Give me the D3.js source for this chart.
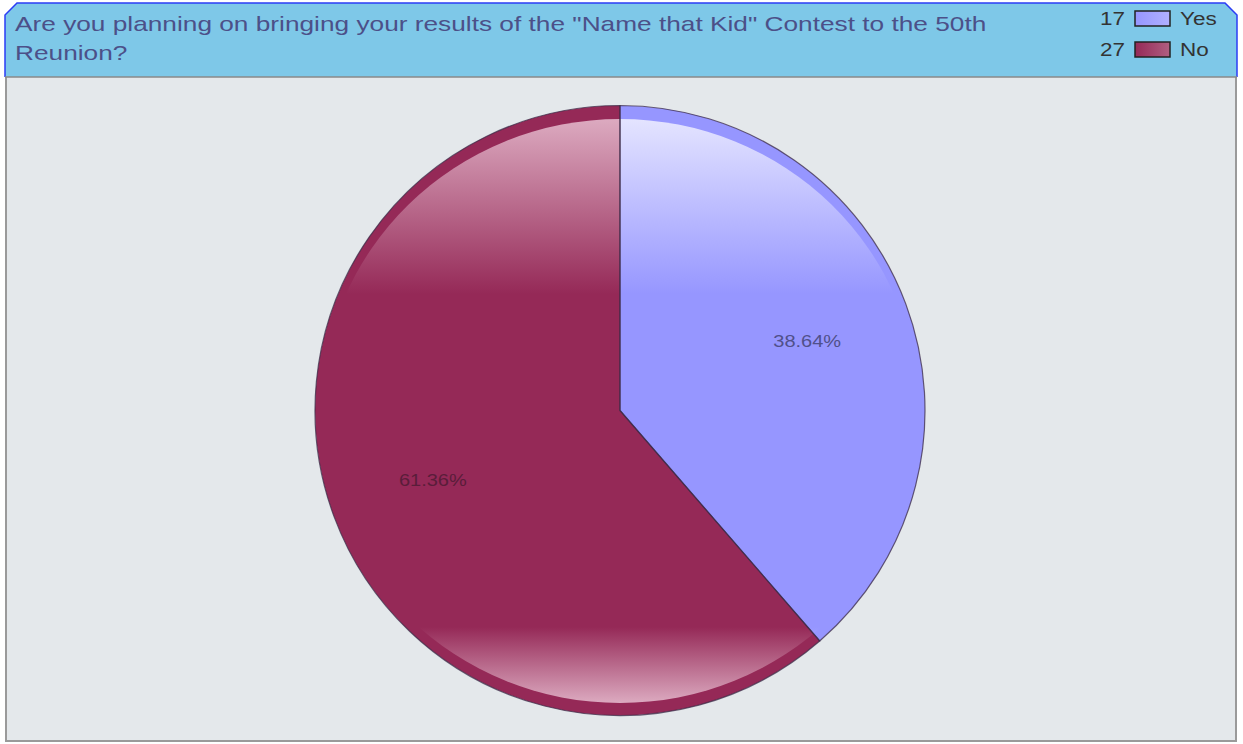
<!DOCTYPE html>
<html><head><meta charset="utf-8">
<script src="https://cdn.jsdelivr.net/npm/d3@7"></script>
<style>html,body{margin:0;padding:0;background:#fff;}svg{display:block;}</style>
</head><body>
<svg id="c" width="1243" height="744"></svg>
<script>
const titleLines = ['Are you planning on bringing your results of the "Name that Kid" Contest to the 50th', 'Reunion?'];
const categories = ["Yes", "No"];
const counts = [17, 27];
const colors = ["#9696ff", "#952957"];
const lightColors = ["#e4e4ff", "#dcaac0"];
const labelColors = ["#50508a", "#5a1d3a"];

const svg = d3.select("#c");
const font = "'Liberation Sans', Arial, sans-serif";
const SX = 1.25; // horizontal stretch of text as in reference

function txt(x, y, s, size, fill, anchor) {
  return svg.append("text")
    .attr("transform", `translate(${x},${y}) scale(${SX},1)`)
    .attr("text-anchor", anchor || "start")
    .attr("font-family", font).attr("font-size", size).attr("fill", fill).text(s);
}

// body panel
svg.append("rect").attr("x", 6).attr("y", 76).attr("width", 1230).attr("height", 665)
  .attr("fill", "#e4e8eb").attr("stroke", "#9a9a9a").attr("stroke-width", 2);

// header with chamfered top corners
const hx0 = 5, hx1 = 1237, hy0 = 3, hy1 = 77, ch = 12;
svg.append("path")
  .attr("d", `M${hx0},${hy1} L${hx0},${hy0+ch} L${hx0+ch},${hy0} L${hx1-ch},${hy0} L${hx1},${hy0+ch} L${hx1},${hy1} Z`)
  .attr("fill", "#7ec8e8");
svg.append("path")
  .attr("d", `M${hx0},${hy1} L${hx0},${hy0+ch} L${hx0+ch},${hy0} L${hx1-ch},${hy0} L${hx1},${hy0+ch} L${hx1},${hy1}`)
  .attr("fill", "none").attr("stroke", "#2b3cf5").attr("stroke-width", 1.5);
svg.append("line").attr("x1", hx0).attr("x2", hx1).attr("y1", hy1).attr("y2", hy1)
  .attr("stroke", "#8a8a8a").attr("stroke-width", 1.5);

// title
titleLines.forEach((t, i) => txt(15, 31 + i * 29, t, 21, "#4c5088"));

// legend
const defs = svg.append("defs");
categories.forEach((c, i) => {
  const g = defs.append("linearGradient").attr("id", "lg" + i).attr("x1", 0).attr("x2", 1).attr("y1", 0).attr("y2", 0);
  g.append("stop").attr("offset", 0).attr("stop-color", colors[i]);
  g.append("stop").attr("offset", 1).attr("stop-color", d3.interpolateRgb(colors[i], "#fff")(0.25));
  const y = 18 + i * 31;
  txt(1125, y + 7, counts[i], 18, "#333", "end");
  svg.append("rect").attr("x", 1135).attr("y", y - 7).attr("width", 35).attr("height", 15)
    .attr("fill", `url(#lg${i})`).attr("stroke", "#222").attr("stroke-width", 1.5);
  txt(1180, y + 7, c, 18, "#333");
});

// pie
const cx = 620, cy = 410.5, R = 305;
const total = d3.sum(counts);
const pie = d3.pie().sort(null).value(d => d)(counts);
const arc = d3.arc().innerRadius(0).outerRadius(R);
const labelArc = d3.arc().innerRadius(R * 0.655).outerRadius(R * 0.655);
const pg = svg.append("g").attr("transform", `translate(${cx},${cy})`);

// gloss area: slightly smaller ellipse inside the disk
const gRx = 299, gRy = 292, gCy = 0.5;
defs.append("clipPath").attr("id", "glossClip")
  .append("ellipse").attr("cx", 0).attr("cy", gCy).attr("rx", gRx).attr("ry", gRy);

pie.forEach((d, i) => {
  const g = defs.append("linearGradient").attr("id", "pg" + i).attr("gradientUnits", "userSpaceOnUse")
    .attr("x1", 0).attr("x2", 0).attr("y1", gCy - gRy).attr("y2", gCy + gRy);
  const light = lightColors[i];
  g.append("stop").attr("offset", 0).attr("stop-color", light);
  g.append("stop").attr("offset", 0.30).attr("stop-color", colors[i]);
  g.append("stop").attr("offset", 0.87).attr("stop-color", colors[i]);
  g.append("stop").attr("offset", 1).attr("stop-color", light);
});

pg.selectAll("path.base").data(pie).join("path").attr("class", "base")
  .attr("d", arc).attr("fill", (d, i) => colors[i]);
pg.append("g").attr("clip-path", "url(#glossClip)")
  .selectAll("path.gloss").data(pie).join("path").attr("class", "gloss")
  .attr("d", arc).attr("fill", (d, i) => `url(#pg${i})`);
pg.selectAll("path.edge").data(pie).join("path").attr("class", "edge")
  .attr("d", arc).attr("fill", "none").attr("stroke", "#3c2c48").attr("stroke-opacity", 0.75).attr("stroke-width", 1.2);

pie.forEach((d, i) => {
  const [lx, ly] = labelArc.centroid(d);
  txt(cx + lx, cy + ly + 6, (d.value / total * 100).toFixed(2) + "%", 16, labelColors[i], "middle");
});
</script>
</body></html>
